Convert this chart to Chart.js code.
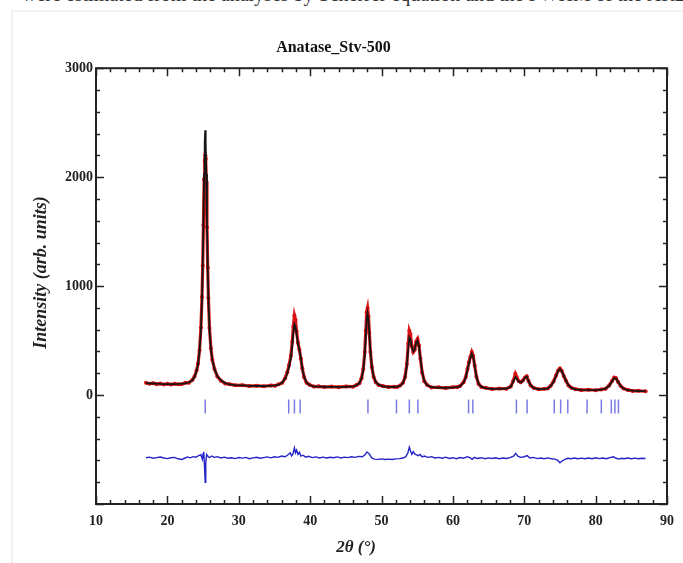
<!DOCTYPE html>
<html>
<head>
<meta charset="utf-8">
<script src="https://cdn.jsdelivr.net/npm/chart.js@4/dist/chart.umd.min.js"></script>
<style>
  html,body{margin:0;padding:0;background:#fff;width:683px;height:563px;overflow:hidden;position:relative;}
  #cut{position:absolute;top:-17px;left:22px;font:20px "Liberation Serif",serif;color:#333;white-space:nowrap;}
  #frameBox{position:absolute;left:11px;top:10px;width:700px;height:600px;border-left:2px solid #f0f0f0;border-top:2px solid #f3f3f3;}
  canvas{position:absolute;left:0;top:0;}
</style>
</head>
<body>
<div id="cut">were estimated from the analyses by Scherrer equation and the FWHM of the XRD peaks was</div>
<div id="frameBox"></div>
<canvas id="c" width="683" height="563"></canvas>
<script>
// ---- data ----
const twoTheta = [
17.0,17.5,18.0,18.5,19.0,19.5,20.0,20.5,21.0,21.5,22.0,22.5,
23.0,23.5,23.8,24.1,24.3,24.5,24.7,24.85,24.95,25.05,25.15,25.23,25.3,25.37,25.45,25.55,25.65,25.75,25.9,26.1,26.3,26.6,27.0,27.5,28.1,
28.7,29.5,30.5,31.5,32.5,33.5,34.5,35.1,
35.6,36.1,36.5,36.8,37.05,37.3,37.5,37.65,37.8,37.95,38.1,38.3,38.5,38.7,38.9,39.15,39.5,39.9,40.5,
41.2,42.0,43.0,44.0,45.0,46.0,
46.5,46.9,47.2,47.45,47.65,47.8,47.92,48.05,48.18,48.3,48.45,48.65,48.9,49.2,49.6,50.2,
51.0,51.8,52.2,
52.6,53.0,53.3,53.55,53.75,53.9,54.05,54.25,54.45,54.65,54.85,55.05,55.25,55.45,55.7,56.0,56.4,57.0,
58.0,59.0,60.0,60.6,
61.0,61.5,61.8,62.05,62.25,62.45,62.65,62.85,63.05,63.3,63.6,64.0,
64.6,65.5,66.5,67.5,
68.1,68.45,68.75,68.95,69.2,69.5,69.8,70.1,70.35,70.6,70.9,71.3,72.0,72.8,
73.3,73.7,74.1,74.45,74.75,75.0,75.25,75.55,75.85,76.2,76.6,77.2,
78.0,79.0,80.0,80.8,
81.4,81.9,82.3,82.6,82.85,83.15,83.5,83.9,84.5,85.2,86.0,87.0];

const yCalc = [
110,108,106,104,102,101,100,100,101,102,104,108,
115,135,165,220,280,400,600,880,1180,1580,2030,2320,2430,2320,2030,1580,1180,880,600,420,320,240,175,135,110,
97,92,88,85,83,83,85,88,
95,115,150,200,260,340,460,570,650,630,560,470,410,340,250,170,115,92,80,
77,76,75,75,76,80,
90,110,150,230,370,540,690,750,690,560,400,260,170,120,95,80,
75,74,77,
85,110,160,270,430,530,510,440,400,420,480,500,450,340,210,130,90,72,
68,67,69,74,
80,115,160,230,290,340,380,350,270,170,105,75,
63,58,57,60,
75,120,165,150,125,115,130,160,170,130,90,65,55,55,
62,82,120,175,220,238,220,175,130,90,65,52,
48,46,46,50,
60,85,125,155,152,122,85,60,45,40,37,36];

const yObs = [
112,104,109,100,105,97,103,96,103,98,100,112,
113,138,170,228,290,410,620,900,1190,1560,1980,2150,2200,2170,1960,1540,1170,890,615,430,325,238,170,132,106,
100,89,91,82,86,80,88,86,
98,112,155,210,275,360,490,630,730,690,585,480,415,335,245,165,112,95,78,
80,73,78,72,79,77,
92,108,155,240,395,590,760,800,720,570,395,255,165,117,92,82,
73,77,75,
87,112,165,285,470,590,560,450,395,415,490,515,455,335,205,127,92,70,
71,64,72,72,
82,118,165,240,300,350,395,360,272,168,102,73,
66,55,60,58,
78,130,195,165,130,118,133,162,172,128,88,67,53,57,
60,85,125,180,225,243,222,172,132,88,67,54,
46,49,44,52,
58,88,130,160,156,120,83,61,47,38,39,35];

const diffX = [17,17.5,18,18.5,19,19.5,20,20.5,21,21.5,22,22.4,22.8,23.2,23.6,24,24.4,24.7,24.9,25.0,25.1,25.2,25.3,25.38,25.5,25.65,25.9,26.2,26.6,27,27.5,28,28.5,29,29.5,30,30.5,31,31.5,32,32.5,33,33.5,34,34.5,35,35.5,36,36.5,36.9,37.2,37.4,37.6,37.8,37.95,38.1,38.3,38.5,38.7,39,39.4,39.8,40.3,40.8,41.3,41.8,42.3,42.8,43.3,43.8,44.3,44.8,45.3,45.8,46.3,46.8,47.3,47.7,47.95,48.1,48.3,48.6,49,49.5,50,50.5,51,51.5,52,52.5,53,53.4,53.7,53.9,54.05,54.25,54.45,54.65,54.9,55.15,55.4,55.7,56,56.5,57,57.5,58,58.5,59,59.5,60,60.5,61,61.5,62,62.4,62.7,63,63.4,64,64.5,65,65.5,66,66.5,67,67.5,68,68.5,68.8,69.1,69.5,70,70.4,70.8,71.3,71.8,72.3,72.8,73.3,73.8,74.3,74.7,75.0,75.3,75.7,76.1,76.6,77,77.5,78,78.5,79,79.5,80,80.5,81,81.5,82,82.5,82.8,83.2,83.6,84,84.5,85,85.5,86,86.5,87];
const diffY = [-575,-570,-580,-574,-569,-578,-583,-576,-572,-585,-592,-580,-568,-576,-565,-570,-555,-548,-590,-540,-520,-650,-800,-620,-545,-560,-575,-560,-572,-566,-578,-570,-580,-575,-583,-574,-579,-572,-584,-577,-571,-580,-574,-568,-576,-566,-572,-560,-566,-548,-530,-558,-540,-485,-530,-505,-545,-525,-560,-552,-570,-562,-574,-568,-577,-570,-578,-571,-575,-568,-577,-570,-574,-566,-572,-563,-566,-548,-522,-530,-540,-575,-588,-590,-586,-592,-588,-591,-586,-584,-578,-565,-530,-478,-512,-545,-520,-540,-548,-556,-545,-568,-560,-572,-566,-578,-572,-580,-570,-582,-575,-584,-574,-580,-566,-575,-590,-572,-582,-575,-584,-577,-582,-576,-585,-578,-582,-574,-560,-535,-560,-572,-566,-556,-578,-572,-583,-578,-584,-577,-585,-588,-600,-622,-605,-590,-580,-585,-578,-584,-579,-585,-578,-584,-576,-583,-578,-585,-574,-566,-578,-588,-580,-585,-578,-584,-579,-585,-580,-583];

const braggPos = [25.3,37.0,37.8,38.6,48.1,52.1,53.9,55.1,62.2,62.8,68.9,70.4,74.2,75.1,76.1,78.8,80.8,82.2,82.7,83.2];
const braggTop = -40, braggBottom = -170;

const xTickLabels = [10,20,30,40,50,60,70,80,90];
const yTickLabels = [0,1000,2000,3000];
const xMin = 10, xMax = 90, yMin = -1000, yMax = 3000;

// ---- build library data ----
const obsData = twoTheta.map((t,i)=>({x:t,y:yObs[i]}));
const calcData = twoTheta.map((t,i)=>({x:t,y:yCalc[i]}));
const diffData = diffX.map((t,i)=>({x:t,y:diffY[i]}));
const braggData = [];
braggPos.forEach(p=>{ braggData.push({x:p,y:braggTop},{x:p,y:braggBottom},{x:p,y:null}); });

const SERIF = '"Liberation Serif","Times New Roman",serif';

const framePlugin = {
  id:'framePlugin',
  afterDatasetsDraw(chart){
    const {ctx, chartArea:a, scales:{x,y}} = chart;
    ctx.save();
    ctx.strokeStyle = '#222';
    ctx.lineWidth = 1.5;
    ctx.beginPath();
    for (let v=yMin; v<=yMax; v+=200){
      const p = Math.round(y.getPixelForValue(v))+0.5;
      const L = (v%1000===0)?8:4;
      ctx.moveTo(a.left,p); ctx.lineTo(a.left+L,p);
      ctx.moveTo(a.right,p); ctx.lineTo(a.right-L,p);
    }
    for (let v=xMin; v<=xMax; v+=2){
      const p = Math.round(x.getPixelForValue(v))+0.5;
      const L = (v%10===0)?8:4;
      ctx.moveTo(p,a.bottom); ctx.lineTo(p,a.bottom-L);
      ctx.moveTo(p,a.top); ctx.lineTo(p,a.top+L);
    }
    ctx.stroke();
    ctx.lineWidth = 2;
    ctx.strokeRect(a.left,a.top,a.right-a.left,a.bottom-a.top);
    ctx.restore();
  }
};

new Chart(document.getElementById('c'), {
  type:'scatter',
  data:{
    datasets:[
      {label:'Calc', data:calcData, showLine:true, borderColor:'#151515', borderWidth:1.8, pointRadius:0},
      {label:'Obs', data:obsData, showLine:true, borderColor:'#dc1818', borderWidth:3.2, pointRadius:2, pointBackgroundColor:'#d81010', pointBorderWidth:0},
      {label:'Diff', data:diffData, showLine:true, borderColor:'#2424c8', borderWidth:1.4, pointRadius:0},
      {label:'Bragg', data:braggData, showLine:true, spanGaps:false, borderColor:'#7b7be6', borderWidth:1.5, pointRadius:0}
    ]
  },
  options:{
    responsive:false,
    animation:false,
    layout:{padding:{left:0,right:16,top:0,bottom:0}},
    plugins:{
      legend:{display:false},
      tooltip:{enabled:false},
      title:{display:true, text:'Anatase_Stv-500', color:'#111', font:{family:SERIF, size:16, weight:'bold'}, padding:{top:38,bottom:11}}
    },
    scales:{
      x:{
        type:'linear', min:xMin, max:xMax,
        afterFit(s){ s.height = 59; },
        afterBuildTicks(s){ s.ticks = xTickLabels.map(v=>({value:v})); },
        grid:{display:false, drawTicks:false},
        border:{display:false},
        ticks:{color:'#222', padding:9, maxRotation:0, font:{family:SERIF, size:14, weight:'bold'}, callback:v=>String(v)},
        title:{display:true, text:'2θ (°)\u2003\u2003\u2003', color:'#222', font:{family:SERIF, size:17, weight:'bold', style:'italic'}, padding:{top:0,bottom:5}}
      },
      y:{
        type:'linear', min:yMin, max:yMax,
        afterFit(s){ s.width = 96; },
        afterBuildTicks(s){ s.ticks = yTickLabels.map(v=>({value:v})); },
        grid:{display:false, drawTicks:false},
        border:{display:false},
        ticks:{color:'#222', padding:3, font:{family:SERIF, size:14, weight:'bold'}, callback:v=>String(v)},
        title:{display:true, text:'\u2003\u2002Intensity (arb. units)', color:'#222', font:{family:SERIF, size:18, weight:'bold', style:'italic'}, padding:{top:31,bottom:0}}
      }
    }
  },
  plugins:[framePlugin]
});
</script>
</body>
</html>
